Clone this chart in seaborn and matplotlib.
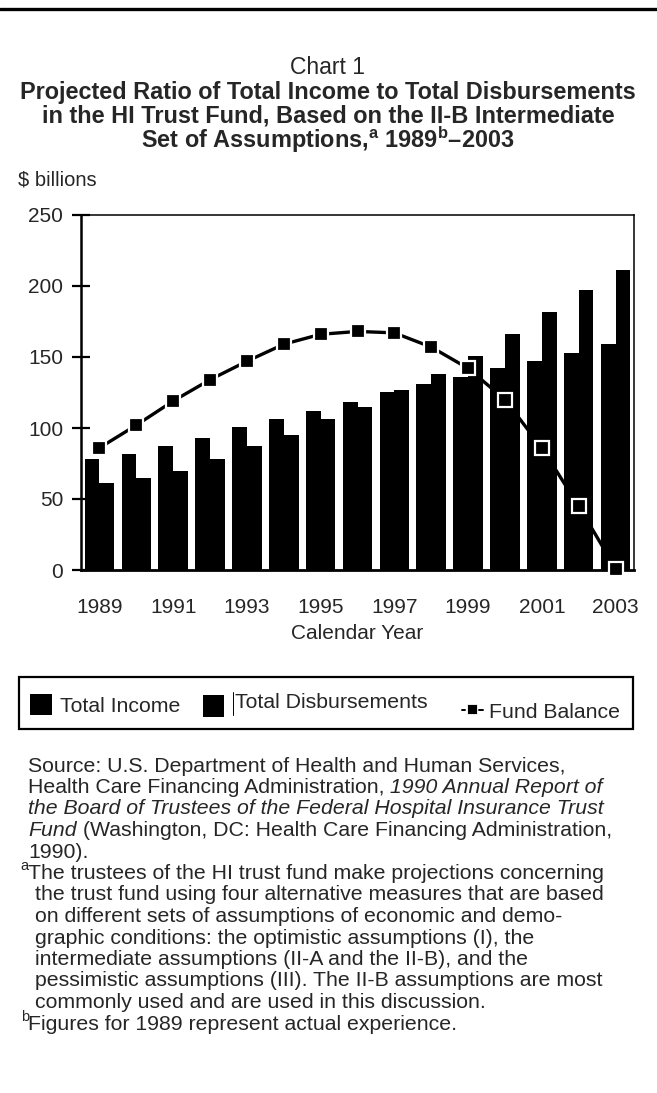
import numpy as np
import pandas as pd
import matplotlib
matplotlib.use("Agg")
import matplotlib.pyplot as plt
import seaborn as sns
from matplotlib.patches import Rectangle
from matplotlib.lines import Line2D

# ---------------- data ----------------
years = [1989, 1990, 1991, 1992, 1993, 1994, 1995, 1996, 1997, 1998,
         1999, 2000, 2001, 2002, 2003]
total_income = [78, 82, 87, 93, 101, 106, 112, 118, 125, 131, 136, 142, 147, 153, 159]
total_disbursements = [61, 65, 70, 78, 87, 95, 106, 115, 127, 138, 151, 166, 182, 197, 211]
fund_balance = [86, 102, 119, 134, 147, 159, 166, 168, 167, 157, 142, 120, 86, 45, 1]
series_names = ["Total Income", "Total Disbursements"]
ytick_values = [0, 50, 100, 150, 200, 250]
xtick_labels = [str(y) for y in years[::2]]

# ---------------- style ----------------
sns.set_style("white")
plt.rcParams["font.family"] = ["Liberation Sans", "DejaVu Sans"]
plt.rcParams["mathtext.fontset"] = "custom"
plt.rcParams["mathtext.rm"] = "Liberation Sans"
plt.rcParams["mathtext.it"] = "Liberation Sans:italic"
plt.rcParams["mathtext.bf"] = "Liberation Sans:bold"

W, H = 657, 1093
fig = plt.figure(figsize=(W / 100, H / 100), dpi=100)

# overlay in pixel coordinates for titles / legend / notes
ov = fig.add_axes([0, 0, 1, 1])
ov.set_xlim(0, W)
ov.set_ylim(H, 0)
ov.axis("off")

# main axes: left 81, right 634, top 215, bottom 570 (pixels)
L, R, T, B = 81, 634, 215, 570
ax = fig.add_axes([L / W, (H - B) / H, (R - L) / W, (B - T) / H])
ax.patch.set_alpha(0)

df = pd.DataFrame({
    "year": [str(y) for y in years] * 2,
    "series": [series_names[0]] * len(years) + [series_names[1]] * len(years),
    "value": total_income + total_disbursements,
})
sns.barplot(data=df, x="year", y="value", hue="series", hue_order=series_names,
            palette=["black", "black"], saturation=1, width=0.8, linewidth=0,
            legend=False, ax=ax)
sns.lineplot(x=np.arange(len(years)), y=fund_balance, ax=ax, color="black",
             linewidth=2.4, marker="s", markersize=10, markeredgecolor="white",
             markeredgewidth=1.6, clip_on=False, zorder=5)

ax.set_xlim(-0.5, len(years) - 0.5)
ax.set_ylim(0, 250)
ax.set_yticks(ytick_values)
ax.set_yticklabels([str(v) for v in ytick_values])
ax.set_xticks(np.arange(0, len(years), 2))
ax.set_xticklabels(xtick_labels)
ax.tick_params(axis="y", direction="inout", length=13.5, width=1.6,
               labelsize=15, pad=6, color="black", left=True)
ax.tick_params(axis="x", length=0, labelsize=15, pad=20)
ax.set_xlabel("Calendar Year", fontsize=15, labelpad=5)
ax.set_ylabel("")
for side, lw in [("left", 1.8), ("top", 1.1), ("right", 1.1), ("bottom", 2.0)]:
    ax.spines[side].set_visible(True)
    ax.spines[side].set_color("black")
    ax.spines[side].set_linewidth(lw)

# ---------------- header ----------------
ov.add_line(Line2D([0, W], [9, 9], color="black", lw=2.4))
ov.text(328, 67, "Chart 1", ha="center", va="center", fontsize=16.5)
title_lines = [
    "Projected Ratio of Total Income to Total Disbursements",
    "in the HI Trust Fund, Based on the II-B Intermediate",
    r"Set of Assumptions,$^{\mathbf{a}}$ 1989$^{\mathbf{b}}$–2003",
]
for i, t in enumerate(title_lines):
    ov.text(328, 92 + 24 * i, t, ha="center", va="center", fontsize=16.9,
            fontweight="bold")
ov.text(18, 180, r"\$ billions", ha="left", va="center", fontsize=14.5)

# ---------------- legend ----------------
ov.add_patch(Rectangle((19, 677), 614, 52, fill=False, edgecolor="black",
                       lw=1.6))
ov.add_patch(Rectangle((30, 694), 22, 21, color="black", lw=0))
ov.text(60, 706, series_names[0], ha="left", va="center", fontsize=15.3)
ov.add_patch(Rectangle((203, 695), 21, 22, color="black", lw=0))
ov.add_line(Line2D([232.7, 232.7], [692, 715], color="black", lw=0.7))
ov.text(235, 703, series_names[1], ha="left", va="center", fontsize=15.3)
ov.add_line(Line2D([462, 465], [710, 710], color="black", lw=1.4))
ov.add_line(Line2D([479, 483], [710, 710], color="black", lw=1.4))
ov.add_line(Line2D([472], [709], marker="s", markersize=7.5, color="black",
                   markeredgecolor="white", markeredgewidth=0.6))
ov.text(489, 712, "Fund Balance", ha="left", va="center", fontsize=15.3)

# ---------------- notes ----------------
fs = 15.3
dy = 21.5
y0 = 766


def mixed(x, y, parts):
    """Draw a line made of (text, style) parts, each following the previous."""
    first, style = parts[0]
    prev = ov.text(x, y, first, ha="left", va="center", fontsize=fs, style=style)
    for txt, st in parts[1:]:
        prev = ov.annotate(txt, xy=(1, 0), xycoords=prev, ha="left",
                           va="bottom", fontsize=fs, style=st)
    return prev


mixed(28, y0, [("Source: U.S. Department of Health and Human Services,", "normal")])
mixed(28, y0 + dy, [("Health Care Financing Administration,", "normal"),
                    (" 1990 Annual Report of", "italic")])
mixed(28, y0 + 2 * dy,
      [("the Board of Trustees of the Federal Hospital Insurance Trust", "italic")])
mixed(28, y0 + 3 * dy, [("Fund", "italic"),
                        (" (Washington, DC: Health Care Financing Administration,",
                         "normal")])
mixed(28, y0 + 4 * dy, [("1990).", "normal")])

ya = y0 + dy * 5
ov.text(20, ya - 7, "a", ha="left", va="center", fontsize=10.5)
ov.text(28, ya, "The trustees of the HI trust fund make projections concerning",
        ha="left", va="center", fontsize=fs)
note_a = [
    "the trust fund using four alternative measures that are based",
    "on different sets of assumptions of economic and demo-",
    "graphic conditions: the optimistic assumptions (I), the",
    "intermediate assumptions (II-A and the II-B), and the",
    "pessimistic assumptions (III). The II-B assumptions are most",
    "commonly used and are used in this discussion.",
]
for i, t in enumerate(note_a):
    ov.text(35, ya + dy * (i + 1), t, ha="left", va="center", fontsize=fs)
yb = ya + dy * 7
ov.text(21, yb - 7, "b", ha="left", va="center", fontsize=10.5)
ov.text(28, yb, "Figures for 1989 represent actual experience.", ha="left",
        va="center", fontsize=fs)

fig.savefig("out.png", dpi=100)
